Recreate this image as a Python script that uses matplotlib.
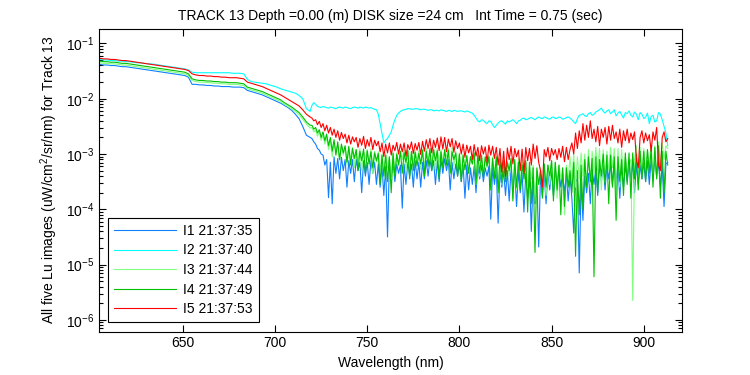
import numpy as np
import matplotlib
matplotlib.use("Agg")
from matplotlib import pyplot as plt
from matplotlib.ticker import FixedLocator, FuncFormatter, LogLocator, NullFormatter

plt.rcParams['font.family'] = ['Liberation Sans', 'DejaVu Sans']
plt.rcParams['mathtext.fontset'] = 'custom'
plt.rcParams['mathtext.rm'] = 'Liberation Sans'
plt.rcParams['mathtext.it'] = 'Liberation Sans'

# wavelength grid (nm): 2 nm steps up to 719, then 1 nm steps 720-913
wl = np.concatenate([np.arange(605, 720, 2), np.arange(720, 914)])

labels = ['I1 21:37:35', 'I2 21:37:40', 'I3 21:37:44', 'I4 21:37:49', 'I5 21:37:53']
colors = ['#1080ff', '#00ffff', '#80ff80', '#00c000', '#ff0000']

# log10 of Lu: 605-719 nm (smooth part)
i1_smooth = [-1.38, -1.39, -1.39, -1.40, -1.40, -1.41, -1.42, -1.42, -1.43, -1.44,
             -1.45, -1.46, -1.47, -1.48, -1.49, -1.50, -1.51, -1.52, -1.53, -1.54,
             -1.55, -1.56, -1.57, -1.58, -1.61, -1.74, -1.74, -1.75, -1.75, -1.76,
             -1.76, -1.77, -1.77, -1.78, -1.78, -1.78, -1.79, -1.79, -1.79, -1.80,
             -1.85, -1.87, -1.89, -1.91, -1.93, -1.96, -1.99, -2.02, -2.05, -2.08,
             -2.12, -2.16, -2.21, -2.28, -2.36, -2.50, -2.66, -2.70]
i2_smooth = [-1.29, -1.30, -1.30, -1.31, -1.31, -1.32, -1.32, -1.33, -1.33, -1.34,
             -1.35, -1.35, -1.36, -1.37, -1.37, -1.38, -1.39, -1.40, -1.41, -1.42,
             -1.43, -1.44, -1.45, -1.46, -1.48, -1.52, -1.53, -1.53, -1.53, -1.53,
             -1.53, -1.53, -1.53, -1.53, -1.53, -1.53, -1.54, -1.54, -1.54, -1.55,
             -1.65, -1.69, -1.70, -1.71, -1.72, -1.73, -1.75, -1.77, -1.79, -1.82,
             -1.84, -1.86, -1.88, -1.90, -1.94, -2.00, -2.18, -2.23]
i3_smooth = [-1.35, -1.36, -1.36, -1.37, -1.37, -1.38, -1.39, -1.39, -1.40, -1.41,
             -1.42, -1.43, -1.44, -1.45, -1.46, -1.47, -1.48, -1.49, -1.50, -1.51,
             -1.52, -1.53, -1.54, -1.55, -1.58, -1.67, -1.69, -1.70, -1.70, -1.71,
             -1.71, -1.72, -1.72, -1.73, -1.73, -1.74, -1.74, -1.74, -1.75, -1.76,
             -1.82, -1.84, -1.86, -1.88, -1.90, -1.93, -1.96, -1.99, -2.02, -2.05,
             -2.10, -2.14, -2.18, -2.23, -2.29, -2.37, -2.46, -2.53]
i4_smooth = [-1.32, -1.33, -1.33, -1.34, -1.34, -1.35, -1.36, -1.36, -1.37, -1.38,
             -1.39, -1.40, -1.41, -1.42, -1.43, -1.44, -1.45, -1.46, -1.47, -1.48,
             -1.49, -1.50, -1.51, -1.52, -1.55, -1.64, -1.66, -1.67, -1.67, -1.68,
             -1.68, -1.69, -1.69, -1.70, -1.70, -1.71, -1.71, -1.71, -1.72, -1.73,
             -1.79, -1.81, -1.83, -1.85, -1.87, -1.90, -1.93, -1.96, -1.99, -2.02,
             -2.07, -2.11, -2.15, -2.20, -2.25, -2.33, -2.42, -2.48]
i5_smooth = [-1.27, -1.28, -1.28, -1.29, -1.29, -1.30, -1.31, -1.31, -1.32, -1.33,
             -1.34, -1.35, -1.36, -1.37, -1.38, -1.39, -1.40, -1.41, -1.42, -1.43,
             -1.44, -1.45, -1.46, -1.47, -1.49, -1.55, -1.57, -1.58, -1.58, -1.59,
             -1.59, -1.60, -1.60, -1.61, -1.61, -1.62, -1.62, -1.62, -1.63, -1.64,
             -1.70, -1.72, -1.74, -1.76, -1.78, -1.81, -1.84, -1.87, -1.90, -1.93,
             -1.97, -2.01, -2.05, -2.09, -2.13, -2.20, -2.28, -2.33]

# 720-913 nm (noisy part), one row = 20 nm
i1_noisy = [-2.72, -2.78, -2.82, -2.90, -2.93, -3.00, -3.02, -3.20, -3.10, -3.79, -3.15, -3.90, -3.05, -3.35, -3.08, -3.45, -3.06, -3.30, -3.10, -3.60,
            -3.12, -3.35, -3.10, -3.50, -3.10, -3.30, -3.15, -3.70, -3.12, -3.40, -3.15, -3.55, -3.12, -3.35, -3.15, -3.55, -3.18, -3.60, -3.20, -3.75,
            -3.22, -4.50, -3.20, -3.40, -3.15, -3.50, -3.18, -3.35, -3.20, -3.98, -3.18, -3.55, -3.15, -3.40, -3.18, -3.60, -3.12, -3.45, -3.15, -3.60,
            -3.15, -3.45, -3.12, -3.40, -3.10, -3.30, -3.12, -3.55, -3.12, -3.50, -3.10, -3.35, -3.08, -3.30, -3.10, -3.65, -3.15, -3.45, -3.18, -3.40,
            -3.18, -3.50, -3.20, -3.80, -3.20, -3.65, -3.25, -3.55, -3.22, -3.70, -3.22, -3.45, -3.20, -3.50, -3.25, -3.40, -3.22, -4.18, -3.25, -3.55,
            -3.28, -4.25, -3.30, -3.60, -3.30, -3.75, -3.30, -3.85, -3.28, -3.60, -3.30, -3.95, -3.32, -3.70, -3.35, -4.05, -3.35, -3.80, -3.40, -4.40,
            -3.40, -3.90, -3.40, -4.68, -3.35, -3.75, -3.35, -3.90, -3.32, -3.65, -3.30, -3.75, -3.28, -3.55, -3.30, -3.60, -3.35, -3.70, -3.38, -3.85,
            -3.40, -3.80, -4.43, -3.50, -3.45, -5.15, -3.50, -4.20, -3.40, -3.70, -3.35, -3.90, -3.28, -3.55, -3.25, -3.75, -3.20, -3.50, -3.20, -3.65,
            -3.20, -3.45, -3.18, -3.55, -3.15, -3.50, -3.18, -3.80, -3.20, -3.60, -3.20, -3.50, -3.15, -3.45, -3.15, -3.70, -3.18, -3.55, -3.20, -3.45,
            -3.15, -3.50, -3.12, -3.55, -3.10, -3.40, -3.12, -3.40, -3.15, -3.60, -3.20, -3.95, -3.18, -3.15]
i2_noisy = [-2.12, -2.07, -2.10, -2.14, -2.15, -2.16, -2.14, -2.15, -2.16, -2.17, -2.15, -2.16, -2.17, -2.18, -2.16, -2.15, -2.16, -2.17, -2.15, -2.16,
            -2.17, -2.18, -2.16, -2.15, -2.16, -2.17, -2.15, -2.16, -2.17, -2.15, -2.16, -2.17, -2.16, -2.18, -2.19, -2.20, -2.28, -2.45, -2.62, -2.80,
            -2.75, -2.72, -2.66, -2.60, -2.48, -2.38, -2.30, -2.26, -2.23, -2.21, -2.20, -2.19, -2.18, -2.18, -2.19, -2.19, -2.18, -2.18, -2.19, -2.20,
            -2.19, -2.19, -2.20, -2.21, -2.20, -2.20, -2.22, -2.21, -2.21, -2.22, -2.20, -2.21, -2.22, -2.23, -2.21, -2.22, -2.23, -2.21, -2.22, -2.23,
            -2.22, -2.22, -2.23, -2.24, -2.22, -2.23, -2.25, -2.26, -2.30, -2.35, -2.40, -2.42, -2.38, -2.39, -2.43, -2.45, -2.40, -2.41, -2.47, -2.52,
            -2.48, -2.44, -2.41, -2.40, -2.43, -2.46, -2.40, -2.42, -2.40, -2.38, -2.41, -2.45, -2.40, -2.39, -2.36, -2.35, -2.38, -2.37, -2.35, -2.34,
            -2.36, -2.38, -2.35, -2.33, -2.35, -2.36, -2.33, -2.34, -2.36, -2.37, -2.34, -2.33, -2.36, -2.35, -2.33, -2.34, -2.37, -2.36, -2.34, -2.33,
            -2.35, -2.38, -2.42, -2.45, -2.36, -2.30, -2.29, -2.27, -2.31, -2.32, -2.27, -2.25, -2.30, -2.28, -2.24, -2.22, -2.20, -2.17, -2.23, -2.26,
            -2.22, -2.20, -2.27, -2.24, -2.20, -2.31, -2.26, -2.23, -2.29, -2.35, -2.25, -2.27, -2.22, -2.30, -2.33, -2.24, -2.28, -2.38, -2.25, -2.28,
            -2.36, -2.33, -2.26, -2.45, -2.32, -2.30, -2.42, -2.40, -2.25, -2.28, -2.38, -2.50, -2.62, -2.85]
i3_noisy = [-2.52, -2.60, -2.56, -2.68, -2.60, -2.75, -2.66, -2.82, -2.70, -2.92, -2.76, -3.05, -2.80, -2.95, -2.84, -3.12, -2.86, -3.02, -2.88, -3.20,
            -2.90, -3.10, -2.88, -3.25, -2.92, -3.15, -2.90, -3.30, -2.94, -3.08, -2.92, -3.22, -2.90, -3.35, -2.95, -3.15, -2.96, -3.30, -3.00, -3.45,
            -2.98, -3.25, -3.05, -3.40, -3.00, -3.35, -2.98, -3.20, -2.95, -3.10, -2.92, -3.30, -2.94, -3.25, -2.96, -3.18, -2.93, -3.12, -2.94, -3.28,
            -2.92, -3.25, -2.90, -3.15, -2.92, -3.20, -2.88, -3.30, -2.90, -3.15, -2.92, -3.18, -2.95, -3.05, -2.90, -3.35, -2.88, -3.22, -2.95, -3.25,
            -2.98, -3.45, -3.00, -3.30, -3.02, -3.28, -3.05, -3.18, -3.00, -3.55, -3.02, -3.40, -3.05, -3.35, -3.08, -3.25, -3.02, -3.50, -3.05, -3.35,
            -3.08, -3.70, -3.10, -3.55, -3.10, -3.45, -3.12, -3.40, -3.12, -3.80, -3.15, -3.65, -3.08, -3.55, -3.10, -3.50, -3.15, -3.60, -3.20, -3.45,
            -3.20, -3.85, -3.30, -3.55, -3.25, -3.70, -3.18, -3.75, -3.20, -3.55, -3.12, -3.60, -3.15, -3.80, -3.20, -3.45, -3.25, -4.10, -3.20, -3.50,
            -3.05, -3.50, -3.00, -3.60, -3.05, -3.45, -2.98, -3.40, -3.00, -3.60, -2.92, -3.55, -2.95, -3.35, -2.88, -3.30, -2.90, -3.65, -2.92, -3.50,
            -2.95, -3.30, -2.88, -3.25, -2.90, -3.75, -2.90, -3.60, -2.92, -3.40, -3.05, -3.35, -3.20, -3.10, -5.65, -3.10, -2.85, -3.45, -2.88, -3.40,
            -2.90, -3.30, -2.92, -3.25, -2.82, -3.50, -2.85, -3.45, -2.78, -3.20, -2.80, -3.10, -2.85, -2.90]
i4_noisy = [-2.48, -2.55, -2.52, -2.62, -2.56, -2.70, -2.60, -2.76, -2.64, -2.85, -2.70, -2.95, -2.74, -3.02, -2.78, -3.10, -2.82, -2.98, -2.85, -3.15,
            -2.86, -3.20, -2.90, -3.08, -2.92, -3.30, -2.95, -3.12, -2.91, -3.35, -2.94, -3.18, -2.96, -3.25, -2.98, -3.12, -2.99, -3.55, -3.02, -3.40,
            -3.02, -3.50, -3.05, -3.70, -2.98, -3.40, -3.00, -3.20, -2.95, -3.35, -2.98, -3.15, -2.93, -3.45, -2.95, -3.30, -2.97, -3.22, -2.99, -3.18,
            -2.93, -3.40, -2.95, -3.22, -2.90, -3.30, -2.92, -3.12, -2.94, -3.45, -2.96, -3.25, -2.92, -3.20, -2.93, -3.35, -2.96, -3.10, -2.98, -3.40,
            -3.00, -3.50, -3.02, -3.28, -3.03, -3.35, -3.05, -3.18, -2.98, -3.55, -3.00, -3.35, -3.02, -3.42, -3.05, -3.22, -3.05, -3.65, -3.08, -3.45,
            -3.05, -3.70, -3.08, -3.52, -3.12, -3.50, -3.15, -3.30, -3.08, -3.85, -3.10, -3.60, -3.15, -3.65, -3.20, -3.45, -3.12, -4.05, -3.15, -3.90,
            -3.25, -4.78, -3.25, -3.55, -3.30, -3.80, -3.18, -3.60, -3.20, -3.40, -3.12, -3.85, -3.15, -3.65, -3.20, -4.10, -3.25, -3.95, -3.25, -3.60,
            -3.30, -3.70, -3.15, -4.85, -3.30, -4.10, -3.20, -4.00, -3.10, -3.60, -3.05, -3.50, -3.08, -5.22, -3.05, -3.70, -3.10, -3.40, -3.00, -3.55,
            -3.02, -3.90, -3.02, -3.60, -3.05, -4.20, -3.05, -3.50, -3.10, -3.75, -2.98, -3.55, -2.98, -3.80, -2.98, -3.45, -3.00, -3.65, -2.95, -3.45,
            -2.95, -3.50, -2.92, -3.35, -2.90, -3.60, -2.88, -3.45, -2.85, -3.80, -2.95, -3.70, -2.95, -3.20]
i5_noisy = [-2.35, -2.40, -2.38, -2.47, -2.41, -2.52, -2.45, -2.58, -2.48, -2.62, -2.52, -2.66, -2.55, -2.70, -2.58, -2.75, -2.61, -2.72, -2.64, -2.80,
            -2.66, -2.82, -2.69, -2.78, -2.70, -2.88, -2.72, -2.84, -2.68, -2.90, -2.74, -2.86, -2.70, -2.92, -2.75, -2.85, -2.77, -2.96, -2.80, -3.05,
            -2.82, -2.98, -2.80, -3.02, -2.84, -2.94, -2.79, -3.00, -2.82, -2.96, -2.80, -3.04, -2.83, -2.92, -2.78, -2.99, -2.81, -2.93, -2.79, -3.01,
            -2.77, -2.95, -2.74, -2.90, -2.72, -2.98, -2.75, -2.88, -2.71, -2.94, -2.69, -2.91, -2.70, -2.96, -2.73, -2.87, -2.72, -2.97, -2.76, -2.90,
            -2.80, -3.00, -2.82, -3.06, -2.84, -2.98, -2.86, -3.10, -2.83, -3.04, -2.88, -3.12, -2.85, -3.00, -2.87, -3.15, -2.84, -3.02, -2.86, -3.08,
            -2.88, -3.20, -2.90, -3.33, -2.95, -3.40, -2.89, -3.10, -2.86, -3.18, -2.90, -3.05, -2.93, -3.30, -2.91, -3.35, -2.88, -3.12, -2.90, -3.20,
            -2.82, -3.08, -2.85, -3.15, -3.30, -3.60, -2.92, -3.05, -2.88, -3.12, -2.90, -3.02, -2.92, -3.10, -2.90, -3.06, -2.86, -3.14, -2.88, -3.10,
            -2.92, -2.80, -3.00, -2.62, -2.90, -2.58, -2.80, -2.45, -2.75, -2.48, -2.70, -2.40, -2.72, -2.55, -2.78, -2.50, -2.85, -2.55, -2.70, -2.52,
            -2.82, -2.50, -2.75, -2.48, -2.72, -2.60, -2.80, -2.55, -2.88, -2.58, -2.76, -2.55, -2.80, -2.62, -2.74, -2.60, -3.10, -3.25, -2.70, -2.58,
            -2.80, -2.62, -2.76, -2.65, -2.95, -2.60, -2.75, -2.52, -3.20, -3.30, -2.70, -2.60, -2.78, -2.72]

series = [i1_smooth + i1_noisy, i2_smooth + i2_noisy, i3_smooth + i3_noisy,
          i4_smooth + i4_noisy, i5_smooth + i5_noisy]

fig = plt.figure(figsize=(7.5, 3.75), dpi=100)
ax = fig.add_axes([0.132, 0.116, 0.777, 0.808])

for vals, c, lab in zip(series, colors, labels):
    n = min(len(vals), len(wl))
    ax.semilogy(wl[:n], np.power(10.0, vals[:n]), color=c, lw=0.8, label=lab)

ax.set_xlim(604.5, 920.6)
ax.set_ylim(10 ** -6.21, 10 ** -0.73)
ax.xaxis.set_major_locator(FixedLocator([650, 700, 750, 800, 850, 900]))
ax.yaxis.set_major_locator(LogLocator(base=10, numticks=10))
ax.yaxis.set_minor_locator(LogLocator(base=10, subs=np.arange(2, 10), numticks=10))
ax.yaxis.set_minor_formatter(NullFormatter())
ax.yaxis.set_major_formatter(FuncFormatter(
    lambda v, p: r'$\mathregular{10^{%d}}$' % int(round(np.log10(v)))))
ax.tick_params(which='both', direction='in', top=True, right=True,
               labelsize=10, width=0.8, colors='black')
ax.tick_params(which='major', length=5)
ax.tick_params(which='minor', length=3)
for s in ax.spines.values():
    s.set_linewidth(0.8)

ax.set_xlabel('Wavelength (nm)', fontsize=10)
ax.set_ylabel('All five Lu images (uW/cm$^2$/sr/nm) for Track 13', fontsize=10)
ax.set_title('TRACK 13 Depth =0.00 (m) DISK size =24 cm   Int Time = 0.75 (sec)', fontsize=10)

leg = ax.legend(loc='lower left', bbox_to_anchor=(0.015, 0.03), borderaxespad=0,
                fancybox=False, framealpha=1, edgecolor='black', fontsize=10,
                handlelength=4.5, handletextpad=0.45, labelspacing=0.4, borderpad=0.45)
leg.get_frame().set_linewidth(0.8)

fig.savefig('out.png', dpi=100)
